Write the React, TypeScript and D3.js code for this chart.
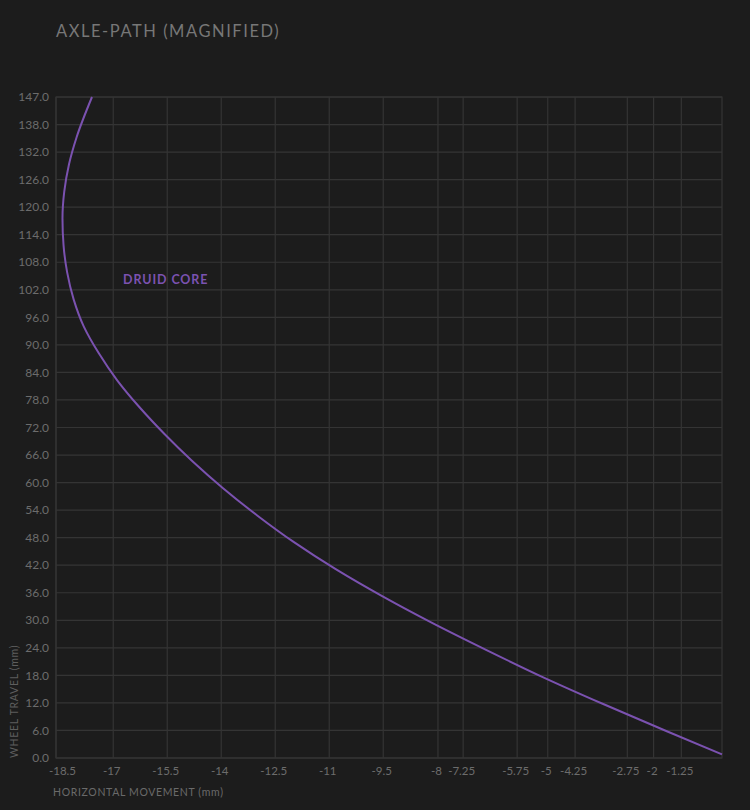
import React from "react";
import * as d3 from "d3";

// ---- data ----
const seriesName = "DRUID CORE";
const horizontalMovement = [0, -1.55, -3.3, -4.98, -6.54, -8.04, -9.44, -10.73, -11.89, -12.92, -13.86, -14.71, -15.48, -16.18, -16.8, -17.31, -17.73, -18.01, -18.19, -18.29, -18.32, -18.27, -18.14, -17.93, -17.5];
const wheelTravel = [0.8, 6, 12, 18, 24, 30, 36, 42, 48, 54, 60, 66, 72, 78, 84, 90, 96, 102, 108, 114, 120, 126, 132, 138, 147];

const xTickValues = [-18.5, -16.91, -15.41, -13.91, -12.41, -10.91, -9.41, -7.89, -7.19, -5.69, -4.84, -4.08, -2.63, -1.9, -1.13];
const xTickLabels = ["-18.5", "-17", "-15.5", "-14", "-12.5", "-11", "-9.5", "-8", "-7.25", "-5.75", "-5", "-4.25", "-2.75", "-2", "-1.25"];
const yTickValues = [0, 6.125, 12.25, 18.375, 24.5, 30.625, 36.75, 42.875, 49, 55.125, 61.25, 67.375, 73.5, 79.625, 85.75, 91.875, 98, 104.125, 110.25, 116.375, 122.5, 128.625, 134.75, 140.875, 147];
const yTickLabels = ["0.0", "6.0", "12.0", "18.0", "24.0", "30.0", "36.0", "42.0", "48.0", "54.0", "60.0", "66.0", "72.0", "78.0", "84.0", "90.0", "96.0", "102.0", "108.0", "114.0", "120.0", "126.0", "132.0", "138.0", "147.0"];

const W = 750;
const H = 810;
const left = 56;
const right = 722;
const top = 97;
const bottom = 758;

const BG = "#1c1c1c";
const GRID = "#343434";
const TEXT = "#6c6c6c";
const PURPLE = "#7b52b0";
const FONT = "Lato, 'Open Sans', sans-serif";

export default function App() {
  const x = d3.scaleLinear().domain([-18.5, 0]).range([left, right]);
  const y = d3.scaleLinear().domain([0, 147]).range([bottom, top]);

  const pts: [number, number][] = horizontalMovement.map((h, i) => [h, wheelTravel[i]]);
  const line = d3
    .line<[number, number]>()
    .x((d) => x(d[0]))
    .y((d) => y(d[1]))
    .curve(d3.curveMonotoneY);

  return (
    <div style={{ position: "absolute", left: 0, top: 0, width: W, height: H, background: BG }}>
      <svg width={W} height={H} style={{ display: "block" }}>
        <rect x={0} y={0} width={W} height={H} fill={BG} />
        <text x={56} y={37} fill="#777777" fontFamily={FONT} fontSize={16.5} letterSpacing={1.55}>
          AXLE-PATH (MAGNIFIED)
        </text>

        {/* grid */}
        {yTickValues.map((v, i) => (
          <line key={"gy" + i} x1={left} x2={right} y1={y(v)} y2={y(v)} stroke={GRID} strokeWidth={1.2} />
        ))}
        {xTickValues.map((v, i) => (
          <line key={"gx" + i} x1={x(v)} x2={x(v)} y1={top} y2={bottom} stroke={GRID} strokeWidth={1.2} />
        ))}
        <rect x={left} y={top} width={right - left} height={bottom - top} fill="none" stroke={GRID} strokeWidth={1.2} />

        {/* y tick labels */}
        {yTickValues.map((v, i) => (
          <text key={"ty" + i} x={49} y={y(v)} dy="0.35em" textAnchor="end" fill={TEXT} fontFamily={FONT} fontSize={12}>
            {yTickLabels[i]}
          </text>
        ))}
        {/* x tick labels */}
        {xTickValues.map((v, i) => (
          <text
            key={"tx" + i}
            x={i === 0 ? x(v) - 7 : x(v) - 1.5}
            y={775}
            textAnchor={i === 0 ? "start" : "middle"}
            fill={TEXT}
            fontFamily={FONT}
            fontSize={11.5}
          >
            {xTickLabels[i]}
          </text>
        ))}

        {/* axis titles */}
        <text
          transform={`translate(18, 758) rotate(-90)`}
          fill="#5e5e5e"
          fontFamily={FONT}
          fontSize={10.5}
          letterSpacing={0.7}
        >
          WHEEL TRAVEL (mm)
        </text>
        <text x={53} y={796} fill="#6a6a6a" fontFamily={FONT} fontSize={10.5} letterSpacing={0.65}>
          HORIZONTAL MOVEMENT (mm)
        </text>

        {/* series */}
        <path d={line(pts) || ""} fill="none" stroke={PURPLE} strokeWidth={2} />
        <text x={123} y={283.5} fill={PURPLE} fontFamily={FONT} fontSize={12.5} fontWeight="bold" letterSpacing={0.9}>
          {seriesName}
        </text>
      </svg>
    </div>
  );
}
